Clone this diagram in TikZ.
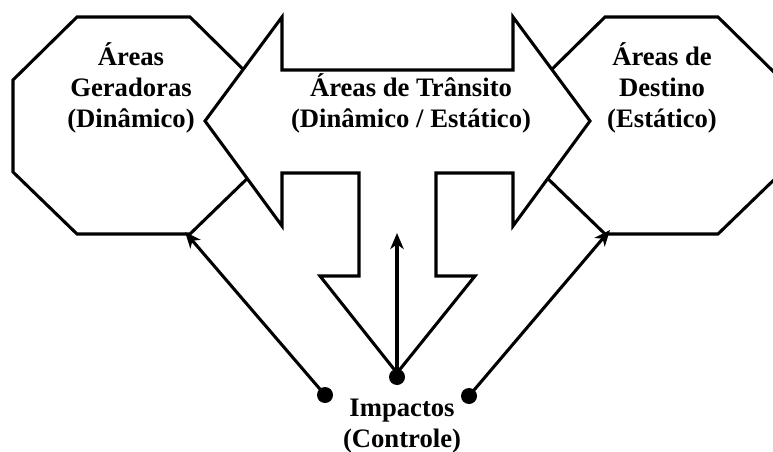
\documentclass[tikz,border=0pt]{standalone}
\usepackage{fontspec}
\setmainfont{Liberation Serif}
\usetikzlibrary{arrows.meta}
\begin{document}
\begin{tikzpicture}[x=0.75pt,y=-0.75pt,
  shapeline/.style={line width=2.3pt, line join=miter, draw=black},
  label/.style={font=\fontsize{20}{23.25}\selectfont\bfseries, align=center, anchor=base, inner sep=0pt},
  dot/.style={circle, fill=black, inner sep=0pt, minimum size=12pt},
  conn/.style={line width=2.3pt, -{Stealth[length=12pt,width=10pt,inset=3.5pt]}}]
\useasboundingbox (0,0) rectangle (773,452);
\begin{scope}
\clip (0,0) rectangle (773,452);
% left octagon
\draw[shapeline] (77,17) -- (190,17) -- (254,80) -- (254,172) -- (190,234) -- (77,234) -- (13,172) -- (13,80) -- cycle;
% right octagon
\draw[shapeline] (605,17) -- (718,17) -- (782,80) -- (782,172) -- (718,234) -- (605,234) -- (541,172) -- (541,80) -- cycle;
% big arrow
\draw[shapeline, fill=white] (205,121) -- (282,17) -- (282,70) -- (513,70) -- (513,17) -- (590,121)
  -- (513,226) -- (513,173) -- (436,173) -- (436,276) -- (475,276) -- (397,373) -- (320,276)
  -- (359,276) -- (359,173) -- (282,173) -- (282,226) -- cycle;
\end{scope}
% labels (anchor base = baseline of the last line)
\node[label] (gen) at (131,128) {Áreas\\Geradoras\\(Dinâmico)};
\node[label] (tra) at (411,128) {Áreas de Trânsito\\(Dinâmico / Estático)};
\node[label] (des) at (662,128) {Áreas de\\Destino\\(Estático)};
\node[label] (imp) at (402,447) {Impactos\\(Controle)};
% dots and connectors
\node[dot] (dL) at (325,395) {};
\node[dot] (dC) at (397,377) {};
\node[dot] (dR) at (469,396) {};
\coordinate (tL) at (185,232);
\coordinate (tC) at (397,233);
\coordinate (tR) at (610,230);
\draw[conn] (dL.center) -- (tL);
\draw[conn] (dC.center) -- (tC);
\draw[conn] (dR.center) -- (tR);
\end{tikzpicture}
\end{document}
